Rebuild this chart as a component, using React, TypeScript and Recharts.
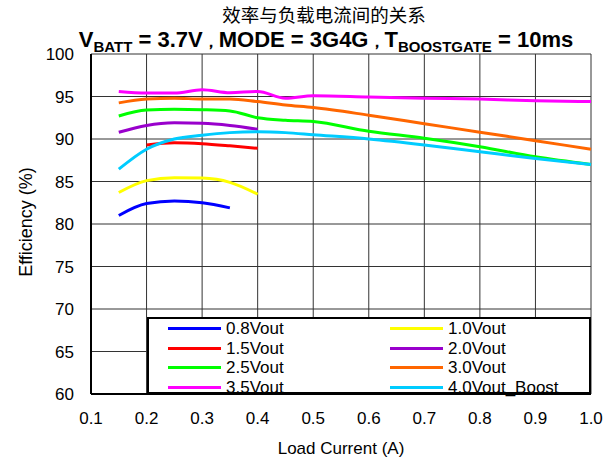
import { CartesianGrid, Line, LineChart, XAxis, YAxis } from "recharts";

// load current (A)
const loadShort = [0.15, 0.2, 0.25, 0.3, 0.35, 0.4];
const loadLong = [0.15, 0.2, 0.25, 0.3, 0.35, 0.4, 0.45, 0.5, 0.6, 0.7, 0.8, 0.9, 1.0];

// efficiency (%)
const eff08 = [81.0, 82.4, 82.7, 82.5, 81.9];
const eff10 = [83.7, 85.1, 85.45, 85.4, 84.9, 83.5];
const eff15 = [89.3, 89.55, 89.45, 89.2, 88.9];
const eff20 = [90.8, 91.6, 91.9, 91.85, 91.6, 91.15];
const eff25 = [92.7, 93.4, 93.5, 93.45, 93.3, 92.5, 92.2, 92.05, 90.9, 90.1, 89.1, 87.9, 87.0];
const eff30 = [94.25, 94.7, 94.8, 94.7, 94.7, 94.4, 94.0, 93.7, 92.8, 91.8, 90.8, 89.8, 88.8];
const eff35 = [95.6, 95.4, 95.4, 95.8, 95.45, 95.6, 94.8, 95.1, 94.95, 94.8, 94.7, 94.5, 94.4];
const eff40 = [86.45, 88.8, 90.0, 90.45, 90.75, 90.85, 90.75, 90.5, 90.0, 89.3, 88.5, 87.7, 87.0];

const xTicks = [0.1, 0.2, 0.3, 0.4, 0.5, 0.6, 0.7, 0.8, 0.9, 1.0];
const yTicks = [60, 65, 70, 75, 80, 85, 90, 95, 100];

const font = "Arial, 'Liberation Sans', sans-serif";

function toPoints(xs: number[], ys: number[]) {
  return ys.map((y, i) => ({ x: xs[i], y }));
}

const series = [
  { name: "0.8Vout", color: "#0000ff", data: toPoints(loadShort, eff08) },
  { name: "1.0Vout", color: "#ffff00", data: toPoints(loadShort, eff10) },
  { name: "1.5Vout", color: "#ff0000", data: toPoints(loadShort.slice(1), eff15) },
  { name: "2.0Vout", color: "#9900cc", data: toPoints(loadShort, eff20) },
  { name: "2.5Vout", color: "#00ff00", data: toPoints(loadLong, eff25) },
  { name: "3.0Vout", color: "#ff6600", data: toPoints(loadLong, eff30) },
  { name: "3.5Vout", color: "#ff00ff", data: toPoints(loadLong, eff35) },
  { name: "4.0Vout_Boost", color: "#00ccff", data: toPoints(loadLong, eff40) },
];

function LegendBox() {
  return (
    <div
      style={{
        position: "absolute",
        left: 147,
        top: 317,
        width: 440,
        height: 73,
        border: "2px solid #000",
        background: "#fff",
        fontFamily: font,
        fontSize: 17,
        display: "grid",
        gridTemplateColumns: "222px 200px",
        gridAutoRows: "19.5px",
      }}
    >
      {series.map((s) => (
        <div key={s.name} style={{ display: "flex", alignItems: "center", paddingLeft: 19 }}>
          <span style={{ width: 53, height: 3, background: s.color, display: "inline-block" }} />
          <span style={{ marginLeft: 5, lineHeight: "19px" }}>{s.name}</span>
        </div>
      ))}
    </div>
  );
}

export default function App() {
  return (
    <div style={{ position: "absolute", left: 0, top: 0, width: 615, height: 462, background: "#fff" }}>
      <div
        style={{
          position: "absolute",
          left: 0,
          top: 4,
          width: 648,
          textAlign: "center",
          fontFamily: "'Noto Sans CJK SC', sans-serif",
          fontSize: 18.5,
          lineHeight: "20px",
        }}
      >
        效率与负载电流间的关系
      </div>
      <div
        style={{
          position: "absolute",
          left: 0,
          top: 29,
          width: 652,
          height: 22,
          textAlign: "center",
          fontFamily: font,
          fontWeight: "bold",
          fontSize: 22,
          lineHeight: "22px",
          whiteSpace: "nowrap",
        }}
      >
        V<sub style={{ fontSize: 15, lineHeight: 0 }}>BATT</sub> = 3.7V<span style={{ fontSize: 16 }}>，</span>MODE = 3G4G
        <span style={{ fontSize: 16 }}>，</span>T
        <sub style={{ fontSize: 15, lineHeight: 0 }}>BOOSTGATE</sub> = 10ms
      </div>
      <LineChart
        width={615}
        height={462}
        margin={{ top: 54, right: 24, bottom: 0, left: 21 }}
        style={{ position: "absolute", left: 0, top: 0 }}
      >
        <CartesianGrid stroke="#333" strokeWidth={1} />
        <XAxis
          dataKey="x"
          type="number"
          domain={[0.1, 1.0]}
          ticks={xTicks}
          tickFormatter={(v) => Number(v).toFixed(1)}
          allowDuplicatedCategory={false}
          height={68}
          tickSize={0}
          tickMargin={18}
          tick={{ fill: "#000", fontSize: 17, fontFamily: font }}
          axisLine={{ stroke: "#000", strokeWidth: 2 }}
          label={{
            content: () => (
              <text x={341} y={454} textAnchor="middle" fontSize={17} fontFamily={font} fill="#000">
                Load Current (A)
              </text>
            ),
          }}
        />
        <XAxis
          xAxisId="top"
          orientation="top"
          type="number"
          domain={[0.1, 1.0]}
          height={0}
          tick={false}
          tickLine={false}
          axisLine={{ stroke: "#000", strokeWidth: 2 }}
        />
        <YAxis
          type="number"
          domain={[60, 100]}
          ticks={yTicks}
          width={70}
          tickSize={0}
          tickMargin={17}
          tick={{ fill: "#000", fontSize: 17, fontFamily: font }}
          axisLine={{ stroke: "#000", strokeWidth: 2 }}
          label={{
            content: () => (
              <text
                x={32}
                y={222}
                textAnchor="middle"
                fontSize={18}
                fontFamily={font}
                fill="#000"
                transform="rotate(-90 32 222)"
              >
                Efficiency (%)
              </text>
            ),
          }}
        />
        <YAxis
          yAxisId="right"
          orientation="right"
          type="number"
          domain={[60, 100]}
          width={0}
          tick={false}
          tickLine={false}
          axisLine={{ stroke: "#000", strokeWidth: 2 }}
        />
        {series.map((s) => (
          <Line
            key={s.name}
            data={s.data}
            dataKey="y"
            name={s.name}
            type="monotone"
            stroke={s.color}
            strokeWidth={3}
            dot={false}
            activeDot={false}
            isAnimationActive={false}
          />
        ))}
      </LineChart>
      <LegendBox />
    </div>
  );
}
